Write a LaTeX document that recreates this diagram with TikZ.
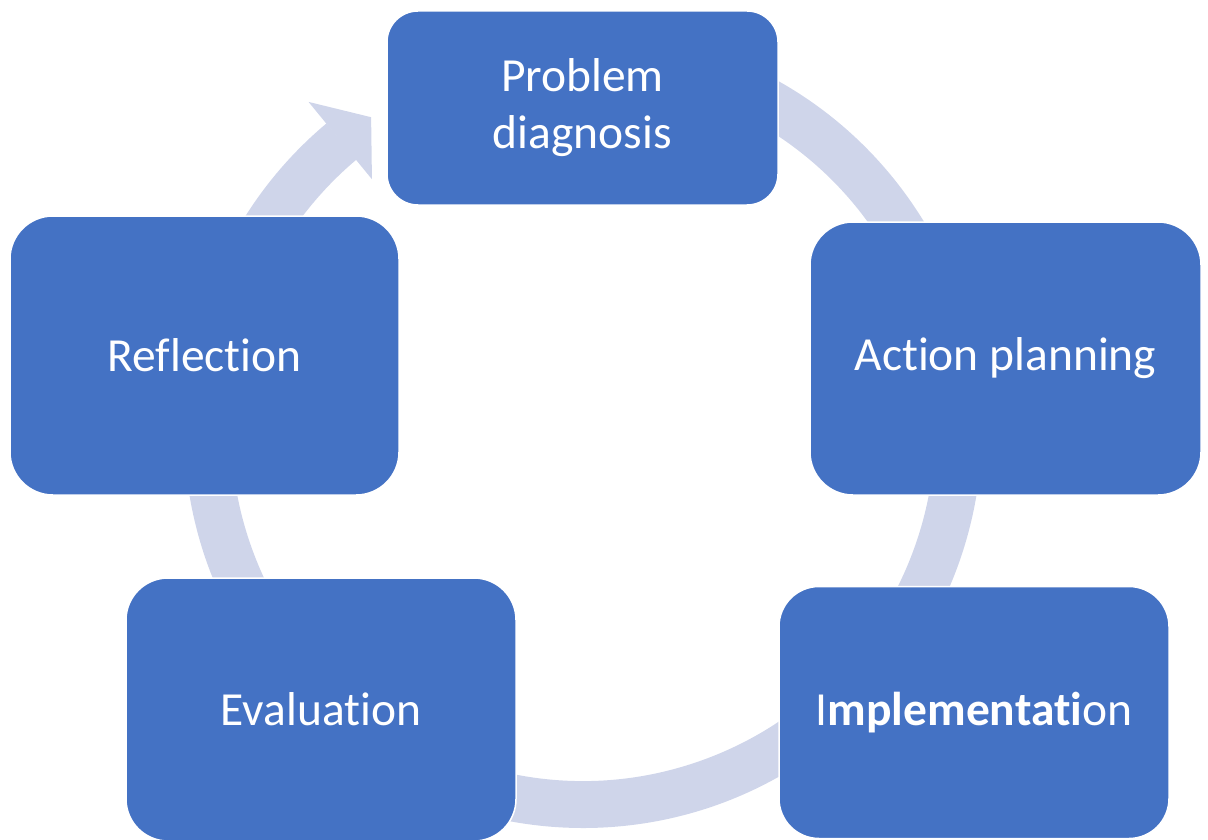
\documentclass[tikz,border=0pt]{standalone}
\usepackage{fontspec}
\setmainfont{Carlito}[Ligatures={NoCommon,NoContextual}]
\usetikzlibrary{calc}
\definecolor{boxblue}{HTML}{4472C4}
\definecolor{ringblue}{HTML}{CFD5EA}
\begin{document}
\begin{tikzpicture}[x=1pt,y=-1pt,
  stagebox/.style={rectangle, fill=boxblue, draw=white, line width=1.5pt,
    text=white, align=center, inner sep=0pt,
    font=\fontsize{47.5}{57}\selectfont},
  ringfill/.style={fill=ringblue, draw=none}]
\useasboundingbox (0,0) rectangle (1208,840);
\coordinate (C) at (583,429);

% cycle ring (angles are negated because the y axis points down)
\fill[ringfill] ($(C)+(-130:399)$) arc[start angle=-130, end angle=-470, radius=399]
  -- ($(C)+(-470:352)$) arc[start angle=-470, end angle=-130, radius=352] -- cycle;
% arrow head leading into the first stage
\fill[ringfill] ($(C)+(-130:427)$) -- ($(C)+(-124.2:377)$) -- ($(C)+(-130.2:327)$) -- cycle;

% stages
\node[stagebox, rounded corners=31pt, minimum width=391pt, minimum height=194pt]
  (pd) at (582.5,108) {Problem\\diagnosis};
\node[stagebox, rounded corners=43pt, minimum width=391pt, minimum height=273pt]
  (ap) at (1005.5,358.5) {Action planning};
\node[stagebox, rounded corners=40pt, minimum width=390pt, minimum height=252pt]
  (im) at (974,712.5) {I\textbf{mplementati}on};
\node[stagebox, rounded corners=42pt, minimum width=390pt, minimum height=263pt]
  (ev) at (321,709.5) {Evaluation};
\node[stagebox, rounded corners=43pt, minimum width=389pt, minimum height=279pt]
  (rf) at (204.5,355.5) {Reflection};
\end{tikzpicture}
\end{document}
